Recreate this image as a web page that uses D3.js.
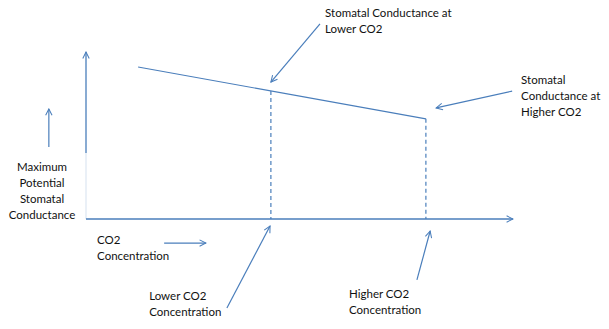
<!DOCTYPE html>
<html>
<head>
<meta charset="utf-8">
<script src="https://cdn.jsdelivr.net/npm/d3@7"></script>
<style>
  body { margin: 0; background: #fff; }
  svg { display: block; }
  .lbl { font-family: Lato, "Open Sans", sans-serif; font-size: 11.5px; fill: #111; }
</style>
</head>
<body>
<div id="chart"></div>
<script>
// Data (abstract units, 0-100 on both axes)
var co2Values = [12.2, 43.3, 79.6];
var conductanceValues = [91, 76.7, 60];
var dropIndexes = [1, 2];          // points with a dashed drop line

// axis extents
var xAxisRange = [0, 100];
var yAxisRange = [0, 100];
var yAxisSolidFrom = 39.5;

// annotations: text lines and anchor in data units
var labelLines = [
  ["Maximum", "Potential", "Stomatal", "Conductance"],
  ["Stomatal Conductance at", "Lower CO2"],
  ["Stomatal", "Conductance at", "Higher CO2"],
  ["CO2", "Concentration"],
  ["Lower CO2", "Concentration"],
  ["Higher CO2", "Concentration"]
];
var labelX = [-10.3, 56.0, 101.9, 2.6, 14.8, 61.6];
var labelY = [31.1, 123.4, 83.2, -12.6, -46.1, -44.9];
var labelAnchor = ["middle", "start", "start", "start", "start", "start"];

// annotation arrows [fromX, fromY, toX, toY]
var arrows = [
  [-8.7, 43.1, -8.7, 65.9],
  [54.8, 116.8, 43.3, 82.0],
  [99.8, 76.6, 82.0, 66.5],
  [18.3, -14.4, 28.1, -14.4],
  [33.0, -53.3, 43.1, -4.2],
  [77.5, -36.5, 80.6, -7.2]
];

var width = 609, height = 329;
var blue = "#4a7ebb";

var x = d3.scaleLinear().domain([0, 100]).range([86, 513]);
var y = d3.scaleLinear().domain([0, 100]).range([219, 52]);

var svg = d3.select("#chart").append("svg")
    .attr("width", width)
    .attr("height", height);

// open arrowhead
svg.append("defs").append("marker")
    .attr("id", "head")
    .attr("viewBox", "0 0 10 10")
    .attr("refX", 9)
    .attr("refY", 5)
    .attr("markerWidth", 8)
    .attr("markerHeight", 8)
    .attr("markerUnits", "userSpaceOnUse")
    .attr("orient", "auto")
  .append("path")
    .attr("d", "M1,1 L9,5 L1,9")
    .attr("fill", "none")
    .attr("stroke", blue)
    .attr("stroke-width", 1.3);

var points = co2Values.map(function(c, i) {
    return { co2: c, g: conductanceValues[i] };
});

// axes
svg.append("line")
    .attr("x1", x(0)).attr("x2", x(0))
    .attr("y1", y(yAxisRange[0])).attr("y2", y(yAxisSolidFrom))
    .attr("stroke", "#dce6f2")
    .attr("stroke-width", 1.2);

svg.append("line")
    .attr("x1", x(0)).attr("x2", x(0))
    .attr("y1", y(yAxisSolidFrom)).attr("y2", y(yAxisRange[1]))
    .attr("stroke", blue)
    .attr("stroke-width", 1.3)
    .attr("marker-end", "url(#head)");

svg.append("line")
    .attr("x1", x(xAxisRange[0])).attr("x2", x(xAxisRange[1]))
    .attr("y1", y(0)).attr("y2", y(0))
    .attr("stroke", blue)
    .attr("stroke-width", 1.3)
    .attr("marker-end", "url(#head)");

// conductance line
var line = d3.line()
    .x(function(d) { return x(d.co2); })
    .y(function(d) { return y(d.g); });

svg.append("path")
    .datum([points[0], points[points.length - 1]])
    .attr("d", line)
    .attr("fill", "none")
    .attr("stroke", blue)
    .attr("stroke-width", 1.2);

// dashed drops
svg.selectAll(".drop")
    .data(dropIndexes.map(function(i) { return points[i]; }))
    .enter()
    .append("line")
    .attr("class", "drop")
    .attr("x1", function(d) { return x(d.co2); })
    .attr("x2", function(d) { return x(d.co2); })
    .attr("y1", function(d) { return y(d.g); })
    .attr("y2", y(0))
    .attr("stroke", blue)
    .attr("stroke-width", 1.2)
    .attr("stroke-dasharray", "4,3");

// annotation arrows
svg.selectAll(".arrow")
    .data(arrows)
    .enter()
    .append("line")
    .attr("class", "arrow")
    .attr("x1", function(d) { return x(d[0]); })
    .attr("y1", function(d) { return y(d[1]); })
    .attr("x2", function(d) { return x(d[2]); })
    .attr("y2", function(d) { return y(d[3]); })
    .attr("stroke", blue)
    .attr("stroke-width", 1.2)
    .attr("marker-end", "url(#head)");

// labels
labelLines.forEach(function(lines, i) {
    var t = svg.append("text")
        .attr("class", "lbl")
        .attr("text-anchor", labelAnchor[i])
        .attr("x", x(labelX[i]))
        .attr("y", y(labelY[i]) + 4);
    t.selectAll("tspan")
        .data(lines)
        .enter()
        .append("tspan")
        .attr("x", x(labelX[i]))
        .attr("dy", function(d, j) { return j === 0 ? 0 : 16; })
        .text(function(d) { return d; });
});
</script>
</body>
</html>
